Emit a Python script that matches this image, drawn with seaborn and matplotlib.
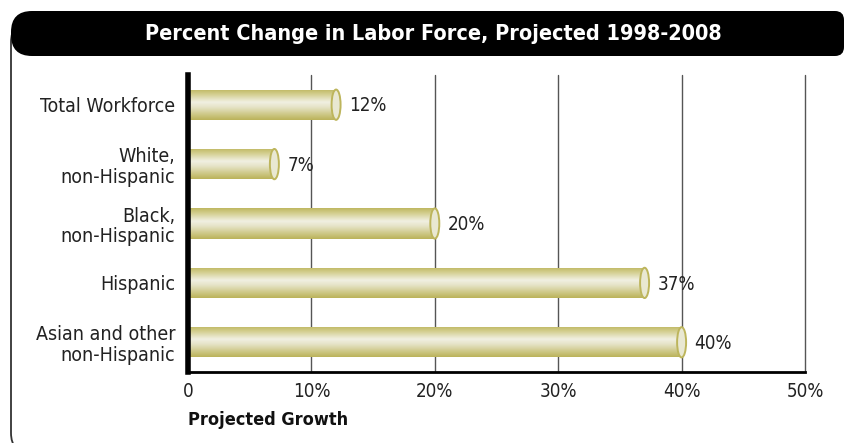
import numpy as np
import pandas as pd
import matplotlib
matplotlib.use("Agg")
import matplotlib.pyplot as plt
import seaborn as sns
from matplotlib.patches import FancyBboxPatch, Ellipse
from matplotlib.colors import LinearSegmentedColormap
from matplotlib.transforms import IdentityTransform

categories = ["Total Workforce", "White,\nnon-Hispanic", "Black,\nnon-Hispanic",
              "Hispanic", "Asian and other\nnon-Hispanic"]
growth = [12, 7, 20, 37, 40]
xticks = [0, 10, 20, 30, 40, 50]
xtick_labels = ["0", "10%", "20%", "30%", "40%", "50%"]

sns.set_style("white")
plt.rcParams['font.family'] = ['DejaVu Sans']
plt.rcParams['font.stretch'] = 'condensed'

W, H = 844, 443
fig = plt.figure(figsize=(W / 100, H / 100), dpi=100)
ax = fig.add_axes([188 / W, 1 - 372 / H, (805 - 188) / W, (372 - 75) / H])

df = pd.DataFrame({"cat": categories, "val": growth})
sns.barplot(data=df, y="cat", x="val", orient="h", ax=ax, color="#cfc98a",
            width=0.51, edgecolor="none")

ax.set_xlim(0, 50)
ax.set_ylim(4.5, -0.5)

cmap = LinearSegmentedColormap.from_list(
    "cyl", [(0, "#bfb862"), (0.15, "#d2cd8c"), (0.42, "#f1f0e2"),
            (0.58, "#e6e4c8"), (0.85, "#cbc580"), (1, "#bbb35a")])
grad = np.linspace(0, 1, 64).reshape(-1, 1)
px_per_unit = (805 - 188) / 50.0
cap_w = 9 / px_per_unit
for p, v in zip(ax.patches, growth):
    x0, y0 = p.get_x(), p.get_y()
    w, h = p.get_width(), p.get_height()
    im = ax.imshow(grad, aspect="auto", cmap=cmap, extent=(x0, x0 + w, y0 + h, y0),
                   origin="upper", zorder=2, interpolation="bilinear")
    im.set_clip_path(p)
    p.set_zorder(1)
    cap = Ellipse((x0 + w, y0 + h / 2), cap_w, h, facecolor="#e9e8d2",
                  edgecolor="#bdb55c", linewidth=1.4, zorder=3)
    ax.add_patch(cap)
    ax.text(x0 + w + 13 / px_per_unit, y0 + h / 2 + 0.02, f"{v}%", va="center",
            ha="left", fontsize=13.5, color="#222222", zorder=4)

ax.set_xticks(xticks)
ax.set_xticklabels(xtick_labels, fontsize=13.5, color="#222222")
ax.set_yticks(range(len(categories)))
ax.set_yticklabels(categories, fontsize=14, color="#222222", linespacing=1.1)
ax.tick_params(axis="y", length=0, pad=9)
ax.tick_params(axis="x", length=0, pad=7)
ax.set_xlabel("")
ax.set_ylabel("")
ax.grid(axis="x", color="#555555", linewidth=1.0, zorder=0)
for gl in ax.get_xgridlines():
    gl.set_clip_on(False)
ax.set_axisbelow(True)
for s in ["top", "right"]:
    ax.spines[s].set_visible(False)
ax.spines["left"].set_linewidth(4)
ax.spines["left"].set_color("black")
ax.spines["bottom"].set_linewidth(2)
ax.spines["bottom"].set_color("black")

fig.text(188 / W, 1 - 420 / H, "Projected Growth", fontsize=13, fontweight="bold",
         ha="left", va="center", color="#111111")

# outer frame (bottom and right edges fall outside the image; top hidden by title bar)
frame = FancyBboxPatch((11, -10), 900, H - 22 + 10,
                       boxstyle="round,pad=0,rounding_size=20",
                       transform=IdentityTransform(), facecolor="none",
                       edgecolor="#333333", linewidth=1.3, zorder=0)
fig.patches.append(frame)
# title bar: large rounding at left, small rounding at right
tb_left = FancyBboxPatch((11, H - 56), 500, 45,
                         boxstyle="round,pad=0,rounding_size=21",
                         transform=IdentityTransform(), facecolor="black",
                         edgecolor="none", zorder=1)
tb_right = FancyBboxPatch((400, H - 56), 444, 45,
                          boxstyle="round,pad=0,rounding_size=9",
                          transform=IdentityTransform(), facecolor="black",
                          edgecolor="none", zorder=1)
fig.patches.extend([tb_left, tb_right])
fig.text(433 / W, 1 - 34 / H, "Percent Change in Labor Force, Projected 1998-2008",
         color="white", fontsize=15.5, fontweight="bold", ha="center", va="center")

fig.savefig("out.png", dpi=100)
